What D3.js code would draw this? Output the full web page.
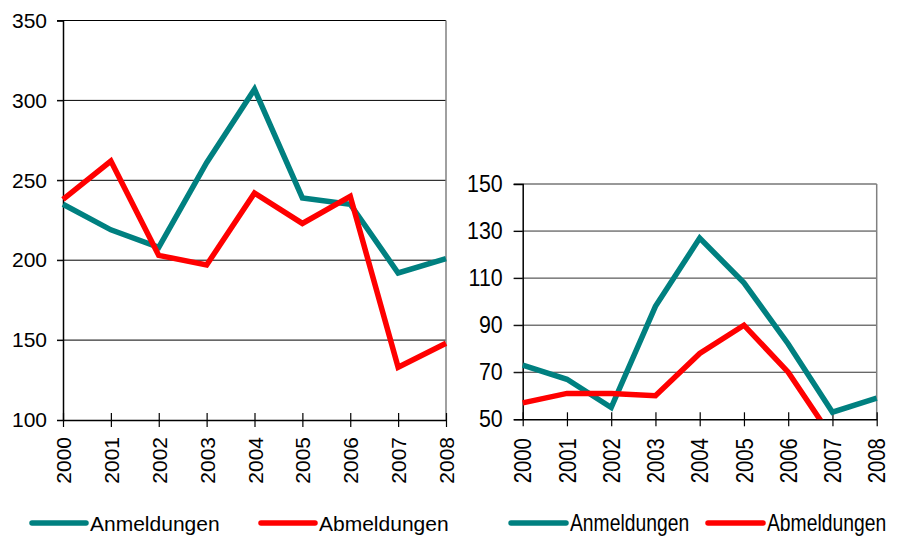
<!DOCTYPE html>
<html>
<head>
<meta charset="utf-8">
<script src="https://cdn.jsdelivr.net/npm/d3@7"></script>
<style>
  html, body { margin: 0; padding: 0; background: #fff; }
</style>
</head>
<body>
<div id="chart"></div>
<script>
const years = ["2000", "2001", "2002", "2003", "2004", "2005", "2006", "2007", "2008"];
const seriesNames = ["Anmeldungen", "Abmeldungen"];

// left panel
const leftAnmeldungen = [235, 219, 208, 261, 307, 239, 235, 192, 201];
const leftAbmeldungen = [238, 262, 203, 197, 242, 223, 240, 133, 148];
const leftTicks = [100, 150, 200, 250, 300, 350];

// right panel (Abmeldungen runs below the axis after 2006 and is cut off)
const rightAnmeldungen = [73, 67, 55, 98, 127, 108, 82, 53, 59];
const rightAbmeldungen = [57, 61, 61, 60, 78, 90, 70, 42, 44];
const rightTicks = [50, 70, 90, 110, 130, 150];

const colors = ["#008080", "#ff0000"];

const svg = d3.select("#chart").append("svg")
    .attr("width", 899)
    .attr("height", 537);

svg.append("rect").attr("width", 899).attr("height", 537).attr("fill", "#fff");

// squeeze text horizontally (narrow font look)
function squeeze(sel, factor) {
    if (factor === 1) return;
    sel.each(function () {
        const w = this.getComputedTextLength();
        d3.select(this)
            .attr("textLength", w * factor)
            .attr("lengthAdjust", "spacingAndGlyphs");
    });
}

function drawPanel(cfg) {
    const g = svg.append("g");
    const x = d3.scalePoint().domain(years).range([cfg.left, cfg.right]);
    const y = d3.scaleLinear().domain(d3.extent(cfg.ticks)).range([cfg.bottom, cfg.top]);

    // gridlines with short outer ticks
    g.selectAll(".grid")
        .data(cfg.ticks.slice(1))
        .join("line")
        .attr("x1", cfg.left - cfg.tickOut)
        .attr("x2", cfg.right)
        .attr("y1", d => y(d))
        .attr("y2", d => y(d))
        .attr("stroke", cfg.gridColor)
        .attr("stroke-width", 1);

    // right border
    g.append("line")
        .attr("x1", cfg.right).attr("x2", cfg.right)
        .attr("y1", cfg.top).attr("y2", cfg.bottom)
        .attr("stroke", "#808080").attr("stroke-width", 1.5);

    // y axis
    const yAxis = g.append("g")
        .attr("transform", `translate(${cfg.left},0)`)
        .call(d3.axisLeft(y).tickValues(cfg.ticks).tickSize(cfg.tickOut).tickPadding(cfg.yPad));
    yAxis.select(".domain").attr("stroke", "#000").attr("stroke-width", 1.5);
    yAxis.selectAll(".tick line").attr("stroke", "#000");
    yAxis.selectAll(".tick text")
        .attr("font-family", cfg.font)
        .attr("font-size", cfg.fontSize)
        .attr("fill", "#000")
        .call(squeeze, cfg.yFactor);

    // x axis, ticks cross the baseline
    const xAxis = g.append("g")
        .attr("transform", `translate(0,${cfg.bottom})`)
        .call(d3.axisBottom(x).tickSizeInner(7).tickSizeOuter(0).tickPadding(0));
    xAxis.select(".domain").attr("stroke", "#000").attr("stroke-width", 1.5);
    xAxis.selectAll(".tick line")
        .attr("y1", -7).attr("y2", 7)
        .attr("stroke", "#000").attr("stroke-width", 1.2);
    xAxis.selectAll(".tick text")
        .attr("transform", "rotate(-90)")
        .attr("text-anchor", "end")
        .attr("x", -cfg.xPad)
        .attr("y", 0)
        .attr("dy", "0.36em")
        .attr("font-family", cfg.font)
        .attr("font-size", cfg.fontSize)
        .attr("fill", "#000")
        .call(squeeze, cfg.xFactor);

    // clip lines to plot area
    const clipId = "clip" + cfg.id;
    svg.append("clipPath").attr("id", clipId)
        .append("rect")
        .attr("x", cfg.left - 5).attr("y", cfg.top - 5)
        .attr("width", cfg.right - cfg.left + 10)
        .attr("height", cfg.bottom - cfg.top + 5);

    const line = d3.line().x((d, i) => x(years[i])).y(d => y(d));
    g.append("g").attr("clip-path", `url(#${clipId})`)
        .selectAll(".series")
        .data(cfg.series)
        .join("path")
        .attr("d", d => line(d))
        .attr("fill", "none")
        .attr("stroke", (d, i) => colors[i])
        .attr("stroke-width", 5.5)
        .attr("stroke-linejoin", "miter");

    // legend (text squeezed with a transform so its box stays honest)
    const leg = g.selectAll(".leg")
        .data(seriesNames)
        .join("g")
        .attr("transform", (d, i) => `translate(${cfg.legend[i]},${cfg.legendY})`);
    leg.append("line")
        .attr("x1", 0).attr("x2", cfg.legendLine)
        .attr("y1", 0).attr("y2", 0)
        .attr("stroke", (d, i) => colors[i])
        .attr("stroke-width", 5.5)
        .attr("stroke-linecap", "round");
    leg.append("text")
        .attr("transform", `translate(${cfg.legendLine + 4},8) scale(${cfg.legFactor},1)`)
        .attr("font-family", cfg.font)
        .attr("font-size", cfg.fontSize)
        .attr("fill", "#000")
        .text(d => d);
}

drawPanel({
    id: "L",
    left: 63, right: 446, top: 20.5, bottom: 420,
    ticks: leftTicks,
    series: [leftAnmeldungen, leftAbmeldungen],
    font: "'Liberation Sans', Arial, sans-serif",
    fontSize: 21,
    yFactor: 1, xFactor: 1, legFactor: 1,
    tickOut: 6, yPad: 10, xPad: 17,
    gridColor: "#000",
    legend: [32, 261], legendY: 523, legendLine: 54
});

drawPanel({
    id: "R",
    left: 522.7, right: 876.7, top: 184, bottom: 419.3,
    ticks: rightTicks,
    series: [rightAnmeldungen, rightAbmeldungen],
    font: "'Liberation Sans', Arial, sans-serif",
    fontSize: 23,
    yFactor: 0.93, xFactor: 0.88, legFactor: 0.84,
    tickOut: 9, yPad: 11, xPad: 19,
    gridColor: "#333",
    legend: [511, 708], legendY: 523, legendLine: 55
});
</script>
</body>
</html>
